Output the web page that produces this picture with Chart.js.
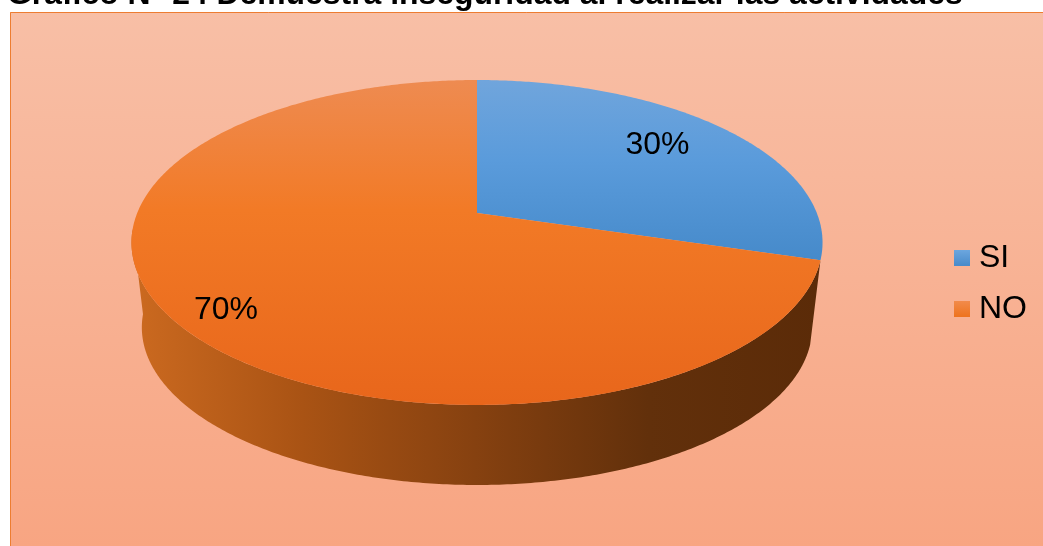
<!DOCTYPE html>
<html>
<head>
<meta charset="utf-8">
<title>Gráfico N° 24</title>
<style>
  html, body { margin: 0; padding: 0; background: #fff; }
  canvas { display: block; }
</style>
<script src="https://cdn.jsdelivr.net/npm/chart.js@4"></script>
</head>
<body>
<canvas id="chart-pie" width="1043" height="546"></canvas>
<script>
const categories = ['SI', 'NO'];
const percentages = [29.6, 70.4]; // labelled 30% and 70% in the picture
const titleText = 'Gráfico N° 24 Demuestra inseguridad al realizar las actividades';

const FONT = '"Liberation Sans", Arial, sans-serif';

// Tilted pie: top face centre, size and perspective
const PIE = { cx: 477, cy: 213, a: 339.8, b: 157.1, k: 0.1815, wallDy: 85.8, wallScale: 0.97 };
// Where each percent label sits along its slice's middle angle
const LABEL_SPOT = [{ r: 0.714, dy: -6 }, { r: 0.838, dy: 11 }];

// Map a Chart.js arc angle onto the tilted pie
function project(angle, r = 1, lower = false) {
  const t = angle + Math.PI / 2;
  const u = Math.sin(t) * r, v = -Math.cos(t) * r;
  const w = 1 - PIE.k * v;
  const s = lower ? PIE.wallScale : 1;
  return {
    x: PIE.cx + s * PIE.a * u / w,
    y: PIE.cy + (lower ? PIE.wallDy : 0) + s * PIE.b * v / w
  };
}

function vGrad(ctx, y0, y1, stops) {
  const g = ctx.createLinearGradient(0, y0, 0, y1);
  stops.forEach(([p, c]) => g.addColorStop(p, c));
  return g;
}

function faceFill(ctx, i) {
  return i === 0
    ? vGrad(ctx, 80, 260, [[0, '#70a5dc'], [0.45, '#5a9bdb'], [1, '#468aca']])
    : vGrad(ctx, 80, 405, [[0, '#ee8b51'], [0.4, '#f27a26'], [1, '#e8661b']]);
}

function rimPath(ctx, from, to, lower) {
  const n = Math.ceil(Math.abs(to - from) / 0.01);
  for (let i = 0; i <= n; i++) {
    const p = project(from + (to - from) * i / n, 1, lower);
    ctx.lineTo(p.x, p.y);
  }
}

const tiltedPie = {
  id: 'tiltedPie',
  beforeDraw(chart) {
    const { ctx, width, height } = chart;
    ctx.save();
    ctx.fillStyle = vGrad(ctx, 12, height, [[0, '#f8bfa6'], [1, '#f8a582']]);
    ctx.fillRect(10, 12, width - 10, height - 12);
    ctx.strokeStyle = '#ed7d31';
    ctx.lineWidth = 1;
    ctx.beginPath();
    ctx.moveTo(10.5, height);
    ctx.lineTo(10.5, 12.5);
    ctx.lineTo(width, 12.5);
    ctx.stroke();
    ctx.restore();
  },
  beforeDatasetsDraw(chart) {
    const { ctx } = chart;
    const arcs = chart.getDatasetMeta(0).data;
    ctx.save();
    // Side wall under the NO slice, only its front half shows
    const wall = ctx.createLinearGradient(130, 0, 821, 0);
    wall.addColorStop(0, '#cc6a20');
    wall.addColorStop(0.25, '#a95314');
    wall.addColorStop(0.5, '#864110');
    wall.addColorStop(0.75, '#62300b');
    wall.addColorStop(1, '#5b2b08');
    const from = arcs[1].startAngle, to = Math.PI - 0.1;
    ctx.fillStyle = wall;
    ctx.beginPath();
    rimPath(ctx, from, to, false);
    rimPath(ctx, to, from, true);
    ctx.closePath();
    ctx.fill();
    // Top face
    arcs.forEach((arc, i) => {
      ctx.fillStyle = faceFill(ctx, i);
      ctx.beginPath();
      ctx.moveTo(PIE.cx, PIE.cy);
      rimPath(ctx, arc.startAngle, arc.endAngle, false);
      ctx.closePath();
      ctx.fill();
    });
    // Percent labels
    ctx.fillStyle = '#000';
    ctx.font = '32px ' + FONT;
    ctx.textAlign = 'center';
    ctx.textBaseline = 'middle';
    arcs.forEach((arc, i) => {
      const p = project((arc.startAngle + arc.endAngle) / 2, LABEL_SPOT[i].r);
      ctx.fillText(Math.round(percentages[i]) + '%', p.x, p.y + LABEL_SPOT[i].dy);
    });
    ctx.restore();
    return false; // the arcs are drawn above, projected
  }
};

const canvas = document.getElementById('chart-pie');
const baseColors = ['#5b9bd5', '#f0781f'];
const legendFills = [
  ['#6ea8e0', '#4a8ccb', 249, 265],
  ['#f28c4e', '#ee7420', 300, 316]
];

new Chart(canvas.getContext('2d'), {
  type: 'pie',
  data: {
    labels: categories,
    datasets: [{ data: percentages, backgroundColor: baseColors, borderWidth: 0 }]
  },
  plugins: [tiltedPie],
  options: {
    responsive: false,
    animation: false,
    layout: { padding: { left: 7, right: 6, top: 21 } },
    plugins: {
      tooltip: { enabled: false },
      title: {
        display: true,
        text: titleText,
        align: 'start',
        color: '#000',
        font: { family: FONT, size: 31.9, weight: 'bold' },
        padding: { top: -45, bottom: 0 }
      },
      legend: {
        position: 'right',
        labels: {
          color: '#000',
          font: { family: FONT, size: 32 },
          padding: 19,
          // thin box with a thick stroke keeps the text as close to the square as in the picture
          boxWidth: 2,
          boxHeight: 2,
          generateLabels(chart) {
            return categories.map((text, i) => {
              const [c0, c1, y0, y1] = legendFills[i];
              const g = vGrad(chart.ctx, y0, y1, [[0, c0], [1, c1]]);
              return { text, index: i, fillStyle: g, strokeStyle: g, lineWidth: 14, fontColor: '#000' };
            });
          }
        }
      }
    }
  }
});
</script>
</body>
</html>
